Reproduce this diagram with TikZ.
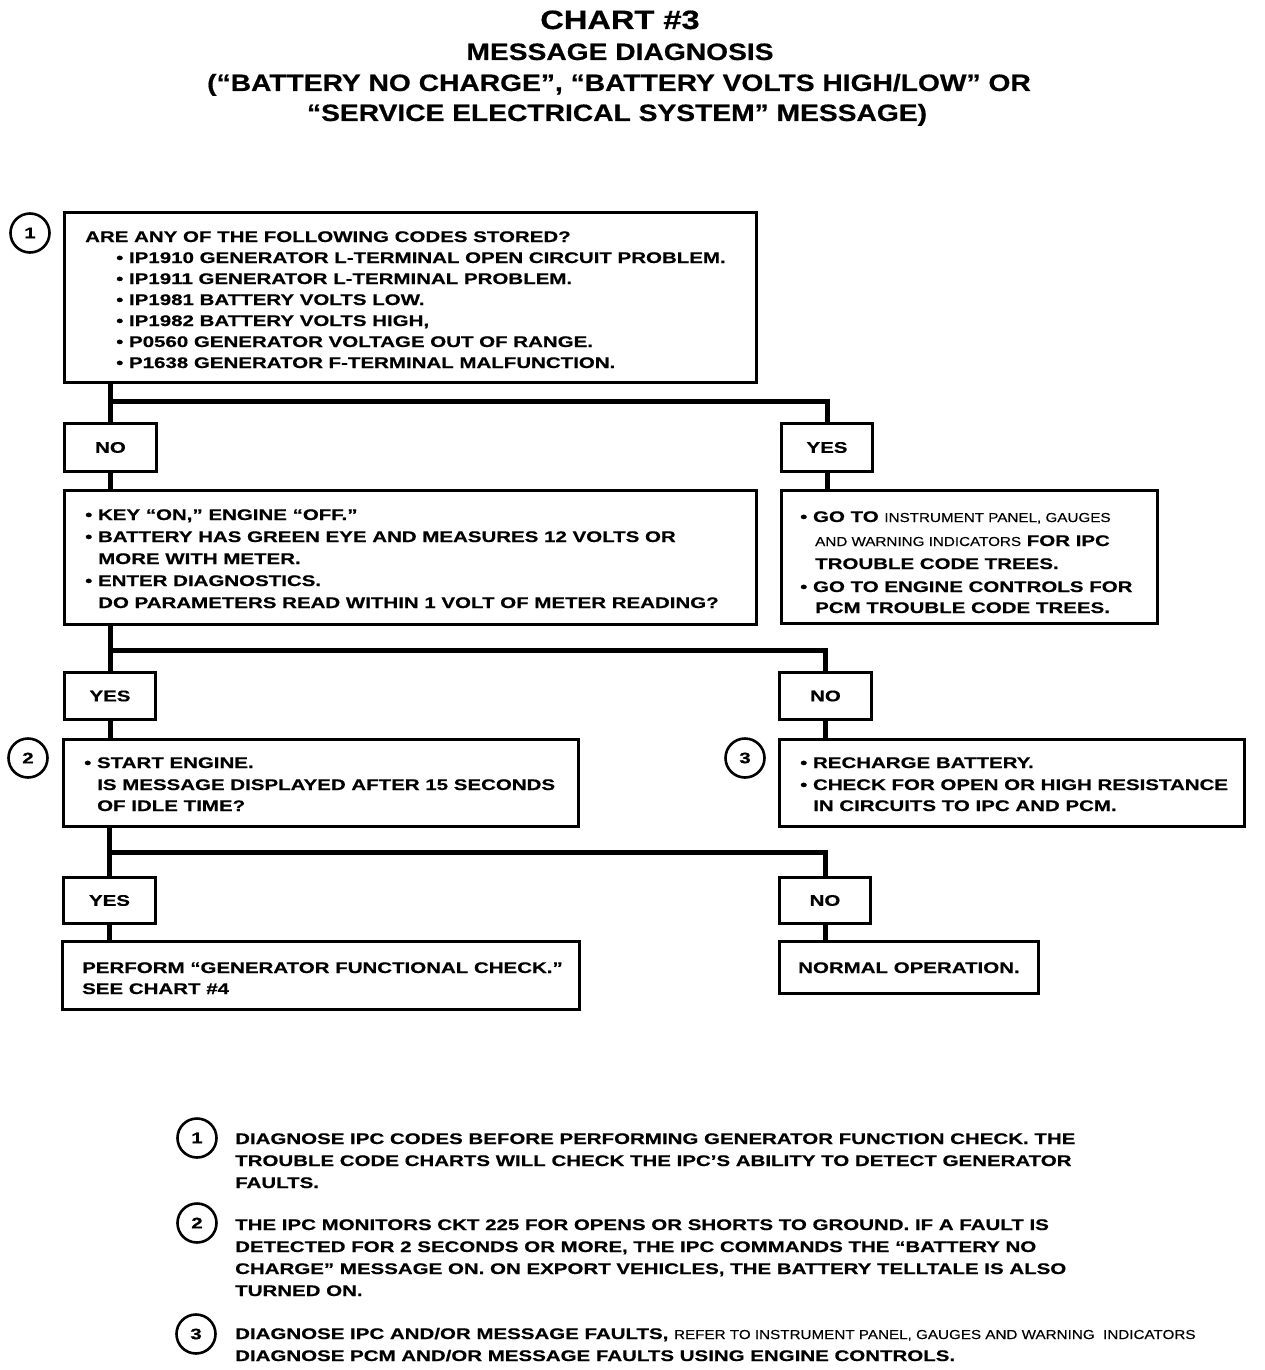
\documentclass[tikz,border=0pt]{standalone}
\usepackage{fontspec}
\newfontfamily\bodyfam{Liberation Sans Bold}[FakeStretch=1.33, FakeBold=0.5]
\newfontfamily\titlefam{Liberation Sans Bold}[FakeStretch=1.19, FakeBold=0.6]
\newfontfamily\bigtitlefam{Liberation Sans Bold}[FakeStretch=1.23, FakeBold=0.6]
\newfontfamily\narrowfam{Liberation Sans}[FakeStretch=1.17, FakeBold=0.3]
\newcommand\bodyf{\bodyfam\fontsize{15.4}{18}\selectfont}
\newcommand\narrowf{\narrowfam\fontsize{13}{15}\selectfont}
\newcommand\titlef{\titlefam\fontsize{23.7}{28}\selectfont}
\newcommand\bigtitlef{\bigtitlefam\fontsize{26.5}{31}\selectfont}
\tikzset{
  x=1pt, y=-1pt,
  box/.style={draw, line width=3pt, anchor=north west, inner sep=0pt, font=\bodyf},
  conn/.style={line width=5pt},
  txt/.style={anchor=base west, inner sep=0pt, font=\bodyf},
  ttl/.style={anchor=base, inner sep=0pt},
  num/.style={circle, draw, line width=2.6pt, minimum size=39pt, inner sep=0pt, font=\bodyf},
}
\begin{document}
\begin{tikzpicture}
\useasboundingbox[fill=white] (0,0) rectangle (1264,1370);

% title
\node[ttl, font=\bigtitlef] (h1) at (620,29) {CHART \#3};
\node[ttl, font=\titlef] (h2) at (620,60) {MESSAGE DIAGNOSIS};
\node[ttl, font=\titlef] (h3) at (619,91) {(“BATTERY NO CHARGE”, “BATTERY VOLTS HIGH/LOW” OR};
\node[ttl, font=\titlef] (h4) at (617,121) {“SERVICE ELECTRICAL SYSTEM” MESSAGE)};

% boxes
\node[box, minimum width=692pt, minimum height=170pt] (b1) at (63,211) {};
\node[box, minimum width=92pt, minimum height=48pt] (no1) at (63,422) {NO};
\node[box, minimum width=91pt, minimum height=48pt] (yes1) at (780,422) {YES};
\node[box, minimum width=692pt, minimum height=134pt] (b2) at (63,489) {};
\node[box, minimum width=376pt, minimum height=133pt] (b3) at (780,489) {};
\node[box, minimum width=91pt, minimum height=47pt] (yes2) at (63,671) {YES};
\node[box, minimum width=92pt, minimum height=47pt] (no2) at (778,671) {NO};
\node[box, minimum width=515pt, minimum height=87pt] (b4) at (62,738) {};
\node[box, minimum width=465pt, minimum height=87pt] (b5) at (778,738) {};
\node[box, minimum width=92pt, minimum height=46pt] (yes3) at (62,876) {YES};
\node[box, minimum width=91pt, minimum height=46pt] (no3) at (778,876) {NO};
\node[box, minimum width=517pt, minimum height=68pt] (b6) at (61,940) {};
\node[box, minimum width=259pt, minimum height=52pt] (b7) at (778,940) {};

% numbered circles
\node[num] (c1) at (30,233) {1};
\node[num] (c2) at (28,758) {2};
\node[num] (c3) at (745,758) {3};

% junctions
\coordinate (j1) at (0,401);
\coordinate (j2) at (0,650);
\coordinate (j3) at (0,852);

% connectors
\draw[conn] (no1.north |- b1.south) -- (no1.north);
\draw[conn] (no1.north |- j1) -| (yes1.north);
\draw[conn] (no1.south) -- (no1.south |- b2.north);
\draw[conn] (yes1.south) -- (yes1.south |- b3.north);
\draw[conn] (yes2.north |- b2.south) -- (yes2.north);
\draw[conn] (yes2.north |- j2) -| (no2.north);
\draw[conn] (yes2.south) -- (yes2.south |- b4.north);
\draw[conn] (no2.south) -- (no2.south |- b5.north);
\draw[conn] (yes3.north |- b4.south) -- (yes3.north);
\draw[conn] (yes3.north |- j3) -| (no3.north);
\draw[conn] (yes3.south) -- (yes3.south |- b6.north);
\draw[conn] (no3.south) -- (no3.south |- b7.north);

% box 1 text
\node[txt] (t1a) at (85,242) {ARE ANY OF THE FOLLOWING CODES STORED?};
\node[txt] (t1b) at (116,263) {• IP1910 GENERATOR L-TERMINAL OPEN CIRCUIT PROBLEM.};
\node[txt] (t1c) at (116,284) {• IP1911 GENERATOR L-TERMINAL PROBLEM.};
\node[txt] (t1d) at (116,305) {• IP1981 BATTERY VOLTS LOW.};
\node[txt] (t1e) at (116,326) {• IP1982 BATTERY VOLTS HIGH,};
\node[txt] (t1f) at (116,347) {• P0560 GENERATOR VOLTAGE OUT OF RANGE.};
\node[txt] (t1g) at (116,368) {• P1638 GENERATOR F-TERMINAL MALFUNCTION.};

% box 2 text
\node[txt] (t2a) at (85,520) {• KEY “ON,” ENGINE “OFF.”};
\node[txt] (t2b) at (85,542) {• BATTERY HAS GREEN EYE AND MEASURES 12 VOLTS OR};
\node[txt] (t2c) at (98,564) {MORE WITH METER.};
\node[txt] (t2d) at (85,586) {• ENTER DIAGNOSTICS.};
\node[txt] (t2e) at (98,608) {DO PARAMETERS READ WITHIN 1 VOLT OF METER READING?};

% box 3 text
\node[txt] (t3a) at (800,522) {• GO TO {\narrowf INSTRUMENT PANEL, GAUGES}};
\node[txt] (t3b) at (815,546) {{\narrowf AND WARNING INDICATORS} FOR IPC};
\node[txt] (t3c) at (815,569) {TROUBLE CODE TREES.};
\node[txt] (t3d) at (800,592) {• GO TO ENGINE CONTROLS FOR};
\node[txt] (t3e) at (815,613) {PCM TROUBLE CODE TREES.};

% box 4 text
\node[txt] (t4a) at (84,768) {• START ENGINE.};
\node[txt] (t4b) at (97,790) {IS MESSAGE DISPLAYED AFTER 15 SECONDS};
\node[txt] (t4c) at (97,811) {OF IDLE TIME?};

% box 5 text
\node[txt] (t5a) at (800,768) {• RECHARGE BATTERY.};
\node[txt] (t5b) at (800,790) {• CHECK FOR OPEN OR HIGH RESISTANCE};
\node[txt] (t5c) at (813,811) {IN CIRCUITS TO IPC AND PCM.};

% box 6, 7 text
\node[txt] (t6a) at (82,973) {PERFORM “GENERATOR FUNCTIONAL CHECK.”};
\node[txt] (t6b) at (82,994) {SEE CHART \#4};
\node[txt] (t7a) at (798,973) {NORMAL OPERATION.};

% notes
\node[num] (n1) at (197,1138) {1};
\node[num] (n2) at (197,1223) {2};
\node[num] (n3) at (196,1334) {3};
\node[txt] (n1a) at (235,1144) {DIAGNOSE IPC CODES BEFORE PERFORMING GENERATOR FUNCTION CHECK. THE};
\node[txt] (n1b) at (235,1166) {TROUBLE CODE CHARTS WILL CHECK THE IPC’S ABILITY TO DETECT GENERATOR};
\node[txt] (n1c) at (235,1188) {FAULTS.};
\node[txt] (n2a) at (235,1230) {THE IPC MONITORS CKT 225 FOR OPENS OR SHORTS TO GROUND. IF A FAULT IS};
\node[txt] (n2b) at (235,1252) {DETECTED FOR 2 SECONDS OR MORE, THE IPC COMMANDS THE “BATTERY NO};
\node[txt] (n2c) at (235,1274) {CHARGE” MESSAGE ON. ON EXPORT VEHICLES, THE BATTERY TELLTALE IS ALSO};
\node[txt] (n2d) at (235,1296) {TURNED ON.};
\node[txt] (n3a) at (235,1339) {DIAGNOSE IPC AND/OR MESSAGE FAULTS, {\narrowf REFER TO INSTRUMENT PANEL, GAUGES AND WARNING\ \ INDICATORS}};
\node[txt] (n3b) at (235,1361) {DIAGNOSE PCM AND/OR MESSAGE FAULTS USING ENGINE CONTROLS.};
\end{tikzpicture}
\end{document}
